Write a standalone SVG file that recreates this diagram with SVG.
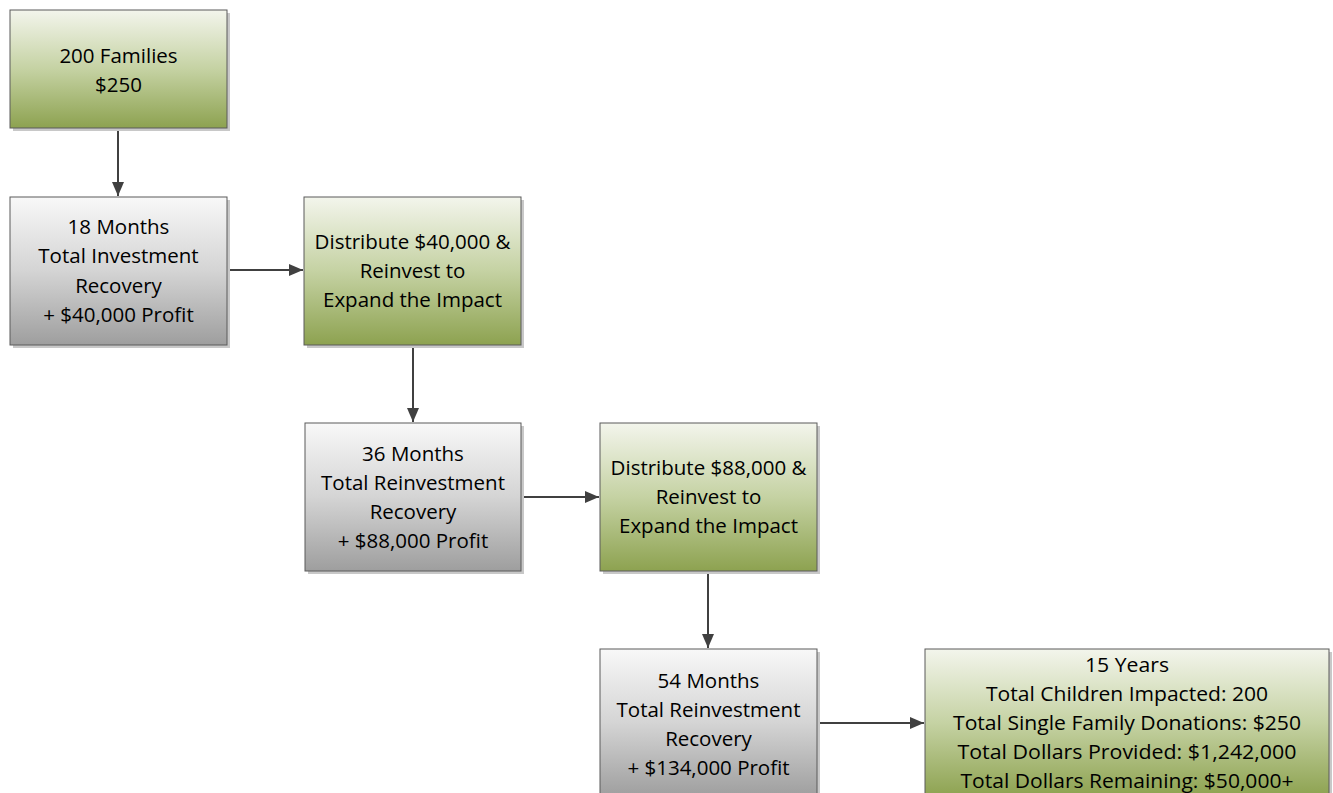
<svg xmlns="http://www.w3.org/2000/svg" width="1333" height="793" viewBox="0 0 1333 793">
<style>
.box{stroke:#5a5a5a;stroke-width:1}
.green{fill:url(#gGreen)}
.gray{fill:url(#gGray)}
.shadow{fill:#c8c8c8}
.t{font-family:"Open Sans","Liberation Sans",sans-serif;font-size:20.5px;fill:#000;text-anchor:middle}
.s{font-family:"Open Sans","Liberation Sans",sans-serif;font-size:20px;fill:#000;text-anchor:middle}
.c{stroke:#404040;stroke-width:2;fill:none;marker-end:url(#arr)}
</style>
<defs>
<linearGradient id="gGreen" x1="0" y1="0" x2="0" y2="1">
<stop offset="0" stop-color="#f3f5ec"/>
<stop offset="0.5" stop-color="#c5d2a3"/>
<stop offset="1" stop-color="#8da250"/>
</linearGradient>
<linearGradient id="gGray" x1="0" y1="0" x2="0" y2="1">
<stop offset="0" stop-color="#f8f8f8"/>
<stop offset="0.5" stop-color="#d4d4d4"/>
<stop offset="1" stop-color="#9e9e9e"/>
</linearGradient>
<marker id="arr" viewBox="0 0 14 12" refX="14" refY="6" markerWidth="7" markerHeight="6" markerUnits="strokeWidth" orient="auto">
<path d="M0,0 L14,6 L0,12 Z" fill="#404040"/>
</marker>
</defs>
<g id="connectors">
<path class="c" d="M118,128 L118,196"/>
<path class="c" d="M227,270 L303,270"/>
<path class="c" d="M413,345 L413,422"/>
<path class="c" d="M521,497 L599,497"/>
<path class="c" d="M708,571 L708,648"/>
<path class="c" d="M817,723 L924,723"/>
</g>
<g id="n1">
<rect class="shadow" x="13" y="13" width="217" height="118"/>
<rect class="box green" x="10" y="10" width="217" height="118"/>
<text class="t" x="118.5" y="63">200 Families</text>
<text class="t" x="118.5" y="92">$250</text>
</g>
<g id="n2">
<rect class="shadow" x="13" y="200" width="217" height="148"/>
<rect class="box gray" x="10" y="197" width="217" height="148"/>
<text class="t" x="118.5" y="234">18 Months</text>
<text class="t" x="118.5" y="263">Total Investment</text>
<text class="t" x="118.5" y="293">Recovery</text>
<text class="t" x="118.5" y="322">+ $40,000 Profit</text>
</g>
<g id="n3">
<rect class="shadow" x="307" y="200" width="217" height="148"/>
<rect class="box green" x="304" y="197" width="217" height="148"/>
<text class="t" x="412.5" y="249">Distribute $40,000 &amp;</text>
<text class="t" x="412.5" y="278">Reinvest to</text>
<text class="t" x="412.5" y="307">Expand the Impact</text>
</g>
<g id="n4">
<rect class="shadow" x="308" y="426" width="216" height="148"/>
<rect class="box gray" x="305" y="423" width="216" height="148"/>
<text class="t" x="413" y="461">36 Months</text>
<text class="t" x="413" y="490">Total Reinvestment</text>
<text class="t" x="413" y="519">Recovery</text>
<text class="t" x="413" y="548">+ $88,000 Profit</text>
</g>
<g id="n5">
<rect class="shadow" x="603" y="426" width="217" height="148"/>
<rect class="box green" x="600" y="423" width="217" height="148"/>
<text class="t" x="708.5" y="475">Distribute $88,000 &amp;</text>
<text class="t" x="708.5" y="504">Reinvest to</text>
<text class="t" x="708.5" y="533">Expand the Impact</text>
</g>
<g id="n6">
<rect class="shadow" x="603" y="652" width="217" height="148"/>
<rect class="box gray" x="600" y="649" width="217" height="148"/>
<text class="t" x="708.5" y="688">54 Months</text>
<text class="t" x="708.5" y="717">Total Reinvestment</text>
<text class="t" x="708.5" y="746">Recovery</text>
<text class="t" x="708.5" y="775">+ $134,000 Profit</text>
</g>
<g id="n7">
<rect class="shadow" x="928" y="652" width="404" height="148"/>
<rect class="box green" x="925" y="649" width="404" height="148"/>
<text class="s" x="1127" y="672" textLength="84" lengthAdjust="spacingAndGlyphs">15 Years</text>
<text class="s" x="1127" y="701" textLength="282" lengthAdjust="spacingAndGlyphs">Total Children Impacted: 200</text>
<text class="s" x="1127" y="730" textLength="348" lengthAdjust="spacingAndGlyphs">Total Single Family Donations: $250</text>
<text class="s" x="1127" y="759" textLength="339" lengthAdjust="spacingAndGlyphs">Total Dollars Provided: $1,242,000</text>
<text class="s" x="1127" y="788" textLength="333" lengthAdjust="spacingAndGlyphs">Total Dollars Remaining: $50,000+</text>
</g>
</svg>
